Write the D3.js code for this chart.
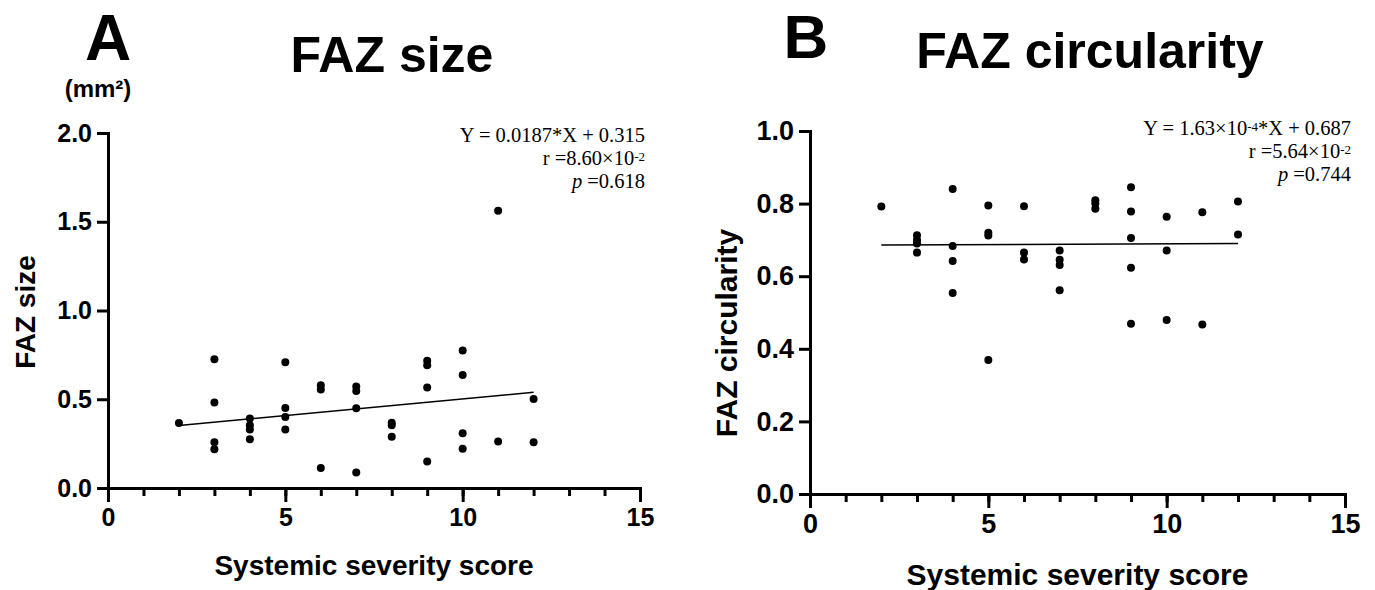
<!DOCTYPE html>
<html>
<head>
  <meta charset="utf-8">
  <title>FAZ size and circularity</title>
  <script src="https://d3js.org/d3.v7.min.js"></script>
  <style>
    body { margin: 0; background: #fff; }
    svg { display: block; }
    text { font-family: "Liberation Sans", Arial, sans-serif; font-weight: bold; fill: #000; }
    .note { font-family: "Liberation Serif", "Times New Roman", serif; font-weight: normal; font-size: 20.5px; }
  </style>
</head>
<body>
  <svg width="1375" height="590"></svg>
  <script>
    // systemic severity score (x) and FAZ values (y)
    var scoreA = [2, 3, 3, 3, 3, 4, 4, 4, 4, 5, 5, 5, 5, 6, 6, 6, 7, 7, 7, 7, 8, 8, 8, 9, 9, 9, 9, 10, 10, 10, 10, 11, 11, 12, 12];
    var fazSize = [0.366, 0.726, 0.481, 0.258, 0.219, 0.392, 0.353, 0.330, 0.275, 0.709, 0.451, 0.400, 0.330,
      0.579, 0.555, 0.113, 0.572, 0.547, 0.449, 0.087, 0.368, 0.353, 0.289, 0.717, 0.692, 0.566, 0.149,
      0.774, 0.636, 0.308, 0.221, 1.562, 0.262, 0.502, 0.258];
    var scoreB = [2, 3, 3, 3, 3, 4, 4, 4, 4, 5, 5, 5, 5, 6, 6, 6, 7, 7, 7, 7, 8, 8, 8, 9, 9, 9, 9, 9, 10, 10, 10, 11, 11, 12, 12];
    var fazCirc = [0.792, 0.713, 0.700, 0.690, 0.665, 0.840, 0.683, 0.642, 0.554, 0.795, 0.720, 0.712, 0.369,
      0.793, 0.665, 0.646, 0.671, 0.645, 0.631, 0.561, 0.809, 0.800, 0.786, 0.845, 0.778, 0.705, 0.623, 0.469,
      0.764, 0.671, 0.479, 0.776, 0.467, 0.806, 0.715];

    // regression line ends (x, y)
    var fitA = [[2, 0.352], [12, 0.539]];
    var fitB = [[2, 0.686], [12, 0.690]];

    var xMajor = [0, 5, 10, 15];
    var xMinor = d3.range(0, 16);
    var yTicksA = [0, 0.5, 1.0, 1.5, 2.0];
    var yTicksB = [0, 0.2, 0.4, 0.6, 0.8, 1.0];

    var svg = d3.select("svg");

    function panel(o) {
      var x = d3.scaleLinear().domain([0, 15]).range(o.xr);
      var y = d3.scaleLinear().domain([0, o.ymax]).range(o.yr);
      var g = svg.append("g");

      // x axis: minor ticks, then major ticks with labels
      g.append("g")
        .attr("transform", "translate(0," + o.yr[0] + ")")
        .call(d3.axisBottom(x).tickValues(xMinor).tickSize(8).tickFormat(""))
        .call(function (a) { a.select(".domain").remove(); });
      var xa = g.append("g")
        .attr("transform", "translate(0," + o.yr[0] + ")")
        .call(d3.axisBottom(x).tickValues(xMajor).tickSize(14).tickSizeOuter(0).tickPadding(6).tickFormat(d3.format("d")));
      xa.selectAll("text").style("font-size", o.tickFont + "px");

      var ya = g.append("g")
        .attr("transform", "translate(" + o.xr[0] + ",0)")
        .call(d3.axisLeft(y).tickValues(o.yTicks).tickSize(11).tickSizeOuter(0).tickPadding(5).tickFormat(d3.format(".1f")));
      ya.selectAll("text").style("font-size", o.tickFont + "px");

      g.selectAll(".domain, .tick line").attr("stroke", "#000").attr("stroke-width", 3);
      g.selectAll(".domain").attr("stroke-linecap", "square");

      // regression line
      g.append("path")
        .datum(o.fit)
        .attr("fill", "none")
        .attr("stroke", "#000")
        .attr("stroke-width", 1.5)
        .attr("d", d3.line().x(function (d) { return x(d[0]); }).y(function (d) { return y(d[1]); }));

      // points
      g.selectAll("circle")
        .data(o.xs)
        .enter()
        .append("circle")
        .attr("cx", function (d) { return x(d); })
        .attr("cy", function (d, i) { return y(o.ys[i]); })
        .attr("r", 4)
        .attr("fill", "#000");

      // titles
      g.append("text").attr("x", o.letterX).attr("y", o.letterY).attr("text-anchor", "middle")
        .style("font-size", o.letterFont + "px").text(o.letter);
      g.append("text").attr("x", o.titleX).attr("y", o.titleY).attr("text-anchor", "middle")
        .style("font-size", "50px").text(o.title);
      g.append("text").attr("x", (o.xr[0] + o.xr[1]) / 2).attr("y", o.xTitleY).attr("text-anchor", "middle")
        .style("font-size", o.axisFont + "px").text("Systemic severity score");
      g.append("text")
        .attr("transform", "translate(" + o.yTitleX + "," + o.yTitleY + ") rotate(-90)")
        .attr("text-anchor", "middle")
        .style("font-size", o.axisFont + "px").text(o.yTitle);

      // regression notes
      var nx = o.noteX, ny = o.noteY;
      var t1 = g.append("text").attr("class", "note").attr("x", nx).attr("y", ny).attr("text-anchor", "end");
      o.line1.forEach(function (p) {
        var s = t1.append("tspan").text(p[0]);
        if (p[1]) s.attr("baseline-shift", "30%").style("font-size", "13px");
      });
      var t2 = g.append("text").attr("class", "note").attr("x", nx).attr("y", ny + 23).attr("text-anchor", "end");
      t2.append("tspan").text("r =" + o.r);
      t2.append("tspan").attr("baseline-shift", "30%").style("font-size", "13px").text("-2");
      var t3 = g.append("text").attr("class", "note").attr("x", nx).attr("y", ny + 46).attr("text-anchor", "end");
      t3.append("tspan").style("font-style", "italic").text("p");
      t3.append("tspan").text(" =" + o.p);
      return g;
    }

    var a = panel({
      xr: [108, 640], yr: [488, 133], ymax: 2.0, yTicks: yTicksA,
      xs: scoreA, ys: fazSize, fit: fitA, tickFont: 25, axisFont: 28,
      letter: "A", letterX: 108, letterY: 60, letterFont: 64,
      title: "FAZ size", titleX: 392, titleY: 72,
      xTitleY: 575, yTitle: "FAZ size", yTitleX: 35, yTitleY: 312,
      noteX: 645, noteY: 142,
      line1: [["Y = 0.0187*X + 0.315"]], r: "8.60×10", p: "0.618"
    });
    a.append("text").attr("x", 98).attr("y", 97).attr("text-anchor", "middle")
      .style("font-size", "24px").text("(mm²)");

    panel({
      xr: [810, 1345], yr: [494, 131], ymax: 1.0, yTicks: yTicksB,
      xs: scoreB, ys: fazCirc, fit: fitB, tickFont: 27, axisFont: 30,
      letter: "B", letterX: 806, letterY: 58, letterFont: 62,
      title: "FAZ circularity", titleX: 1090, titleY: 68,
      xTitleY: 585, yTitle: "FAZ circularity", yTitleX: 737, yTitleY: 333,
      noteX: 1351, noteY: 135,
      line1: [["Y = 1.63×10"], ["-4", true], ["*X + 0.687"]], r: "5.64×10", p: "0.744"
    });
  </script>
</body>
</html>
